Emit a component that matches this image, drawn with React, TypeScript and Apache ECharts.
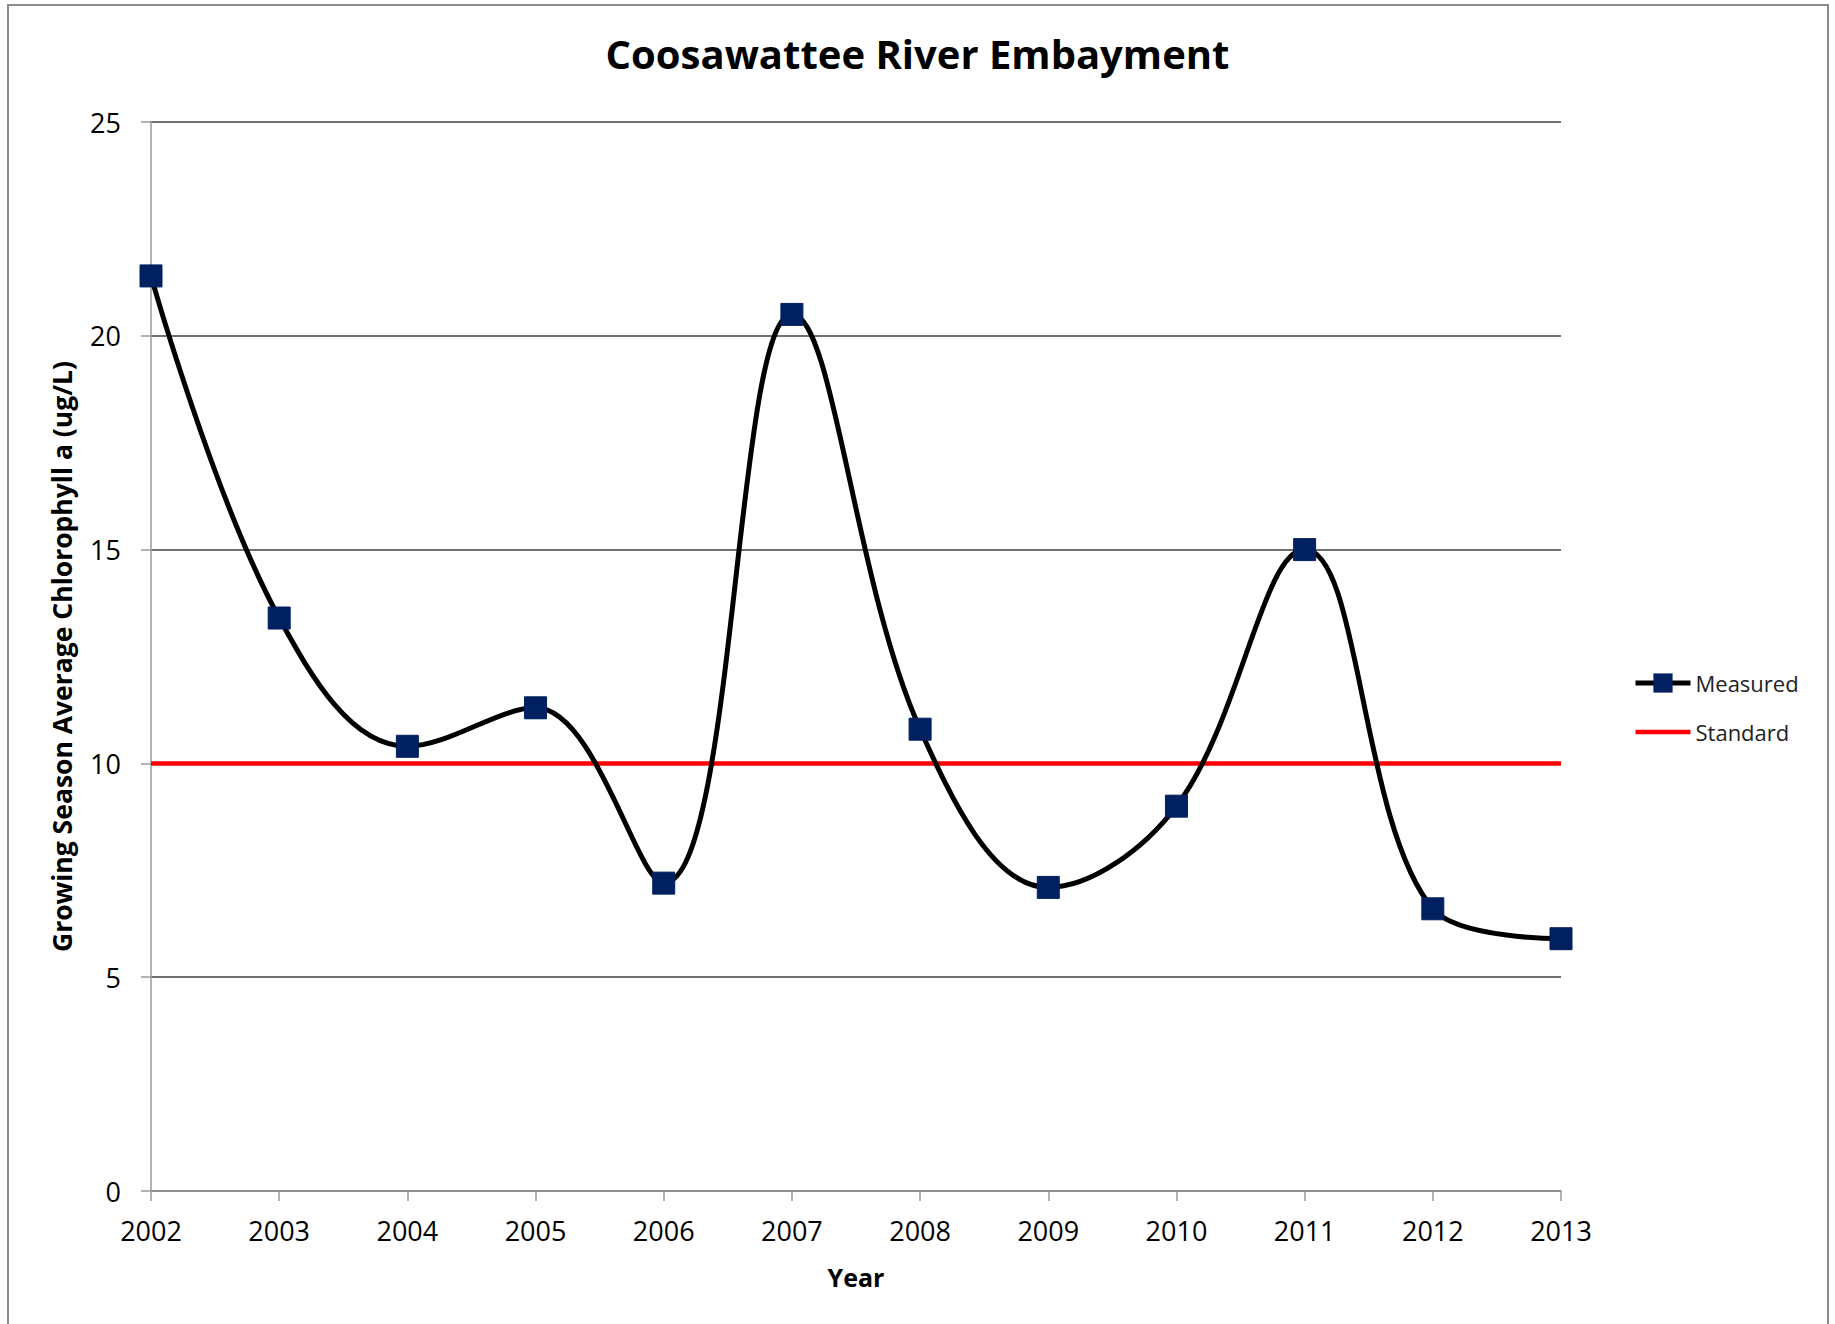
import React, { useEffect, useRef } from "react";
import * as echarts from "echarts";

// Growing season chlorophyll a, Coosawattee River Embayment
const years = ["2002", "2003", "2004", "2005", "2006", "2007", "2008", "2009", "2010", "2011", "2012", "2013"];
const measured = [21.4, 13.4, 10.4, 11.3, 7.2, 20.5, 10.8, 7.1, 9.0, 15.0, 6.6, 5.9];
const standard = [10, 10, 10, 10, 10, 10, 10, 10, 10, 10, 10, 10];
const yTicks = { min: 0, max: 25, interval: 5 };

const FONT = "'Open Sans', 'Noto Sans', sans-serif";

export default function App() {
  const ref = useRef<HTMLDivElement>(null);

  useEffect(() => {
    if (!ref.current) return;
    const chart = echarts.init(ref.current, undefined, { renderer: "svg" });
    chart.setOption({
      animation: false,
      backgroundColor: "#ffffff",
      title: {
        text: "Coosawattee River Embayment",
        left: "center",
        top: 28,
        textStyle: { fontFamily: FONT, fontWeight: "bold", fontSize: 40, color: "#000" },
      },
      graphic: [
        {
          type: "rect",
          shape: { x: 8, y: 5, width: 1820, height: 1330 },
          style: { fill: "none", stroke: "#8c8c8c", lineWidth: 2 },
          silent: true,
        },
      ],
      legend: {
        orient: "vertical",
        left: 1628,
        top: 667,
        itemWidth: 55,
        itemHeight: 24,
        itemGap: 27,
        textStyle: { fontFamily: FONT, fontSize: 22, color: "#222" },
        data: [
          { name: "Measured", lineStyle: { width: 5, color: "#000" } },
          { name: "Standard", lineStyle: { width: 4.5, color: "#ff0000" }, itemStyle: { opacity: 0 } },
        ],
      },
      grid: { left: 151, right: 274, top: 122, bottom: 133 },
      xAxis: {
        type: "category",
        data: years,
        boundaryGap: false,
        name: "Year",
        nameLocation: "middle",
        nameGap: 73,
        nameTextStyle: { fontFamily: FONT, fontWeight: "bold", fontSize: 25, color: "#000" },
        axisLine: { lineStyle: { color: "#9a9a9a", width: 1.5 } },
        axisTick: { show: true, length: 10, lineStyle: { color: "#9a9a9a", width: 1.5 } },
        axisLabel: { fontFamily: FONT, fontSize: 27, color: "#000", margin: 26 },
        splitLine: { show: false },
      },
      yAxis: {
        type: "value",
        min: yTicks.min,
        max: yTicks.max,
        interval: yTicks.interval,
        name: "Growing Season Average Chlorophyll a (ug/L)",
        nameLocation: "middle",
        nameGap: 76,
        nameTextStyle: { fontFamily: FONT, fontWeight: "bold", fontSize: 26.5, color: "#000" },
        axisLine: { show: true, lineStyle: { color: "#9a9a9a", width: 1.5 } },
        axisTick: { show: true, length: 10, lineStyle: { color: "#9a9a9a", width: 1.5 } },
        axisLabel: { fontFamily: FONT, fontSize: 27, color: "#000", margin: 30 },
        splitLine: { show: true, lineStyle: { color: "#404040", width: 1.5 } },
      },
      series: [
        {
          name: "Standard",
          type: "line",
          data: standard,
          symbol: "none",
          lineStyle: { color: "#ff0000", width: 4.5 },
          itemStyle: { color: "#ff0000" },
          z: 2,
        },
        {
          name: "Measured",
          type: "line",
          data: measured,
          smooth: 0.38,
          symbol: "rect",
          symbolSize: 22,
          lineStyle: { color: "#000000", width: 5 },
          itemStyle: { color: "#002060", borderColor: "#002060" },
          z: 3,
        },
      ],
    });
    return () => chart.dispose();
  }, []);

  return (
    <div
      ref={ref}
      style={{ position: "absolute", left: 0, top: 0, width: 1835, height: 1324, background: "#fff" }}
    />
  );
}
